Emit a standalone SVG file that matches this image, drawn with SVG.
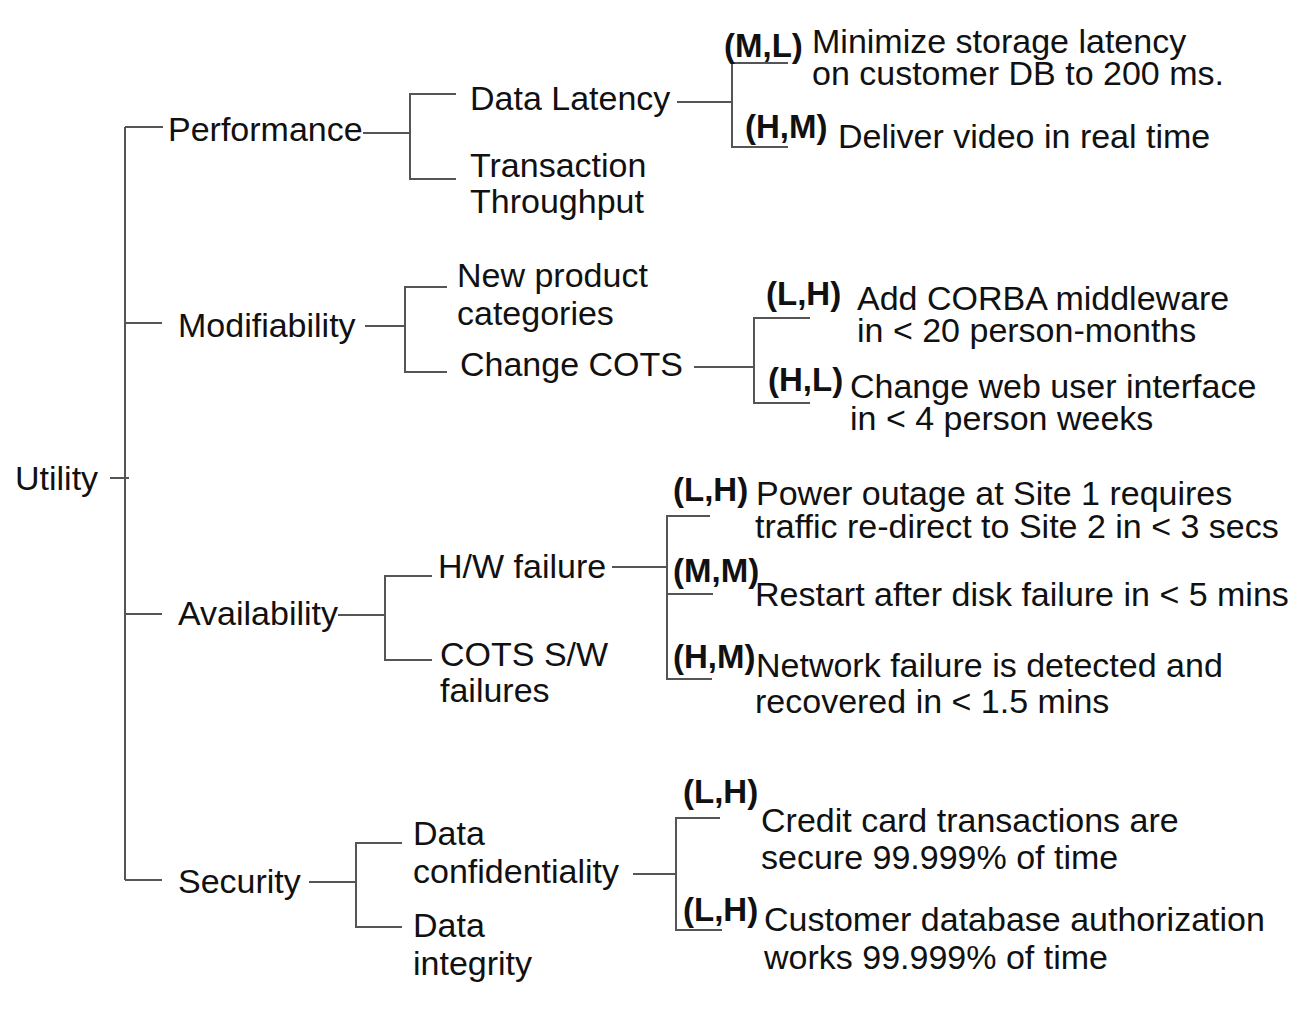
<svg xmlns="http://www.w3.org/2000/svg" width="1315" height="1028" viewBox="0 0 1315 1028">
<style>
  .t { font-family: "Liberation Sans", Arial, Helvetica, sans-serif; font-size: 34px; fill: #111; }
  .b { font-family: "Liberation Sans", Arial, Helvetica, sans-serif; font-size: 33px; font-weight: bold; fill: #111; }
  .c { fill: none; stroke: #555; stroke-width: 2; }
</style>
<rect width="1315" height="1028" fill="#fff"/>
<g id="connectors">
  <path class="c" d="M125 127 V880 M110 478 H129 M125 127 H163 M125 323 H162 M125 614 H162 M125 880 H162"/>
  <path class="c" d="M363 133 H410 M456 94 H410 V179 H456"/>
  <path class="c" d="M677 102 H732 M788 63 H732 V147 H788"/>
  <path class="c" d="M365 326 H405 M447 287 H405 V372 H447"/>
  <path class="c" d="M694 367 H754 M810 318 H754 V403 H810"/>
  <path class="c" d="M338 615 H385 M432 576 H385 V660 H432"/>
  <path class="c" d="M612 567 H667 M710 516 H667 V679 H712 M667 594 H713"/>
  <path class="c" d="M309 882 H356 M402 843 H356 V927 H402"/>
  <path class="c" d="M633 874 H676 M720 818 H676 V930 H722"/>
</g>
<g id="utility"><text class="t" x="15" y="490">Utility</text></g>
<g id="performance"><text class="t" x="168" y="141">Performance</text></g>
<g id="data-latency"><text class="t" x="470" y="110">Data Latency</text></g>
<g id="transaction-throughput"><text class="t" x="470" y="177">Transaction<tspan x="470" y="213">Throughput</tspan></text></g>
<g id="leaf-ml"><text class="b" x="724" y="57">(M,L)</text><text class="t" x="812" y="53">Minimize storage latency<tspan x="812" y="85">on customer DB to 200 ms.</tspan></text></g>
<g id="leaf-hm1"><text class="b" x="745" y="138">(H,M)</text><text class="t" x="838" y="148">Deliver video in real time</text></g>
<g id="modifiability"><text class="t" x="178" y="337">Modifiability</text></g>
<g id="new-product"><text class="t" x="457" y="287">New product<tspan x="457" y="325">categories</tspan></text></g>
<g id="change-cots"><text class="t" x="460" y="376">Change COTS</text></g>
<g id="leaf-lh1"><text class="b" x="766" y="305">(L,H)</text><text class="t" x="857" y="310">Add CORBA middleware<tspan x="857" y="342">in &lt; 20 person-months</tspan></text></g>
<g id="leaf-hl"><text class="b" x="768" y="391">(H,L)</text><text class="t" x="850" y="398">Change web user interface<tspan x="850" y="430">in &lt; 4 person weeks</tspan></text></g>
<g id="availability"><text class="t" x="178" y="625">Availability</text></g>
<g id="hw-failure"><text class="t" x="438" y="578">H/W failure</text></g>
<g id="cots-sw"><text class="t" x="440" y="666">COTS S/W<tspan x="440" y="702">failures</tspan></text></g>
<g id="leaf-lh2"><text class="b" x="673" y="501">(L,H)</text><text class="t" x="756" y="505">Power outage at Site 1 requires<tspan x="755" y="538">traffic re-direct to Site 2 in &lt; 3 secs</tspan></text></g>
<g id="leaf-mm"><text class="b" x="673" y="582">(M,M)</text><text class="t" x="755" y="606">Restart after disk failure in &lt; 5 mins</text></g>
<g id="leaf-hm2"><text class="b" x="673" y="668">(H,M)</text><text class="t" x="756" y="677">Network failure is detected and<tspan x="755" y="713">recovered in &lt; 1.5 mins</tspan></text></g>
<g id="security"><text class="t" x="178" y="893">Security</text></g>
<g id="data-confidentiality"><text class="t" x="413" y="845">Data<tspan x="413" y="883">confidentiality</tspan></text></g>
<g id="data-integrity"><text class="t" x="413" y="937">Data<tspan x="413" y="975">integrity</tspan></text></g>
<g id="leaf-lh3"><text class="b" x="683" y="803">(L,H)</text><text class="t" x="761" y="832">Credit card transactions are<tspan x="761" y="869">secure 99.999% of time</tspan></text></g>
<g id="leaf-lh4"><text class="b" x="683" y="921">(L,H)</text><text class="t" x="764" y="931">Customer database authorization<tspan x="764" y="969">works 99.999% of time</tspan></text></g>
</svg>
